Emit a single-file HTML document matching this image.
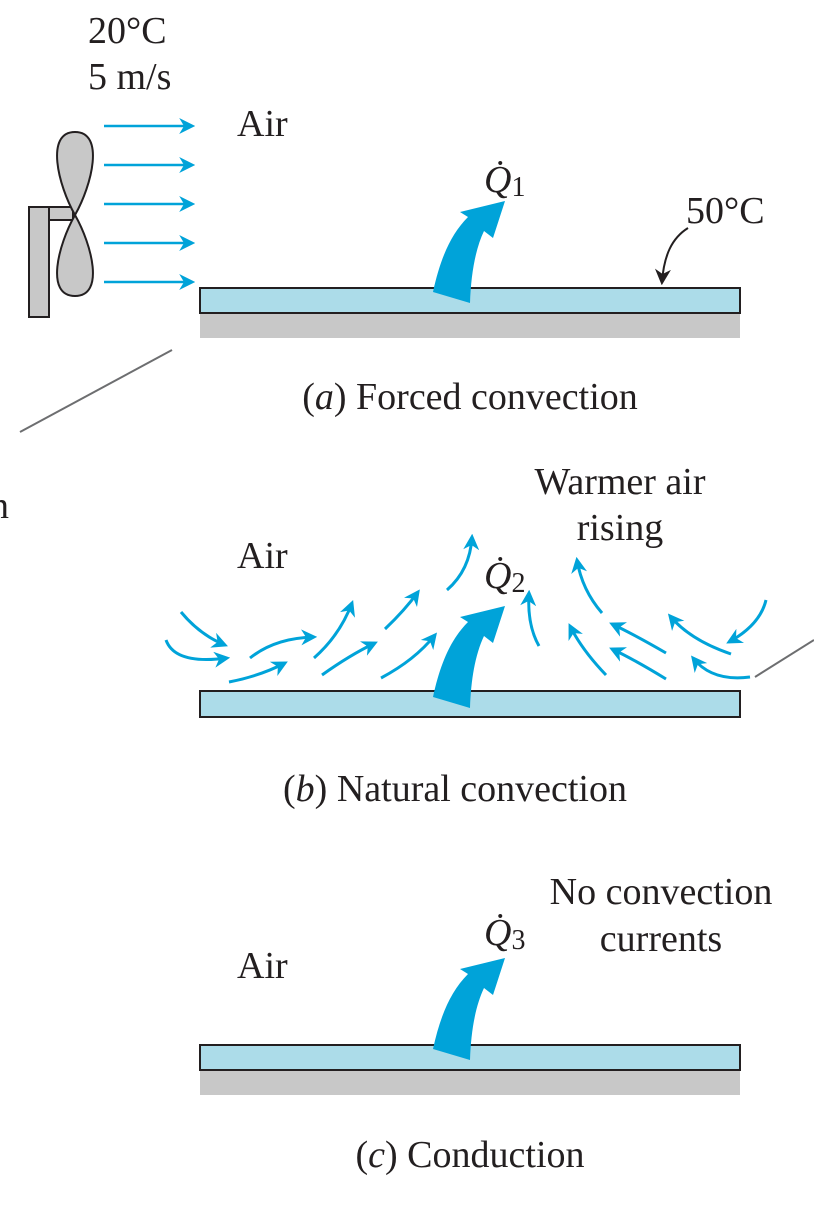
<!DOCTYPE html>
<html><head><meta charset="utf-8"><style>
html,body{margin:0;padding:0;background:#fff;}
svg{display:block;}
text{font-family:"Liberation Serif",serif;fill:#231f20;}
</style></head><body>
<svg width="814" height="1208" viewBox="0 0 814 1208">
<defs>
<marker id="bh2" viewBox="0 0 10 10" refX="8" refY="5" markerWidth="16" markerHeight="16" orient="auto" markerUnits="userSpaceOnUse"><path d="M0,0 L10,5 L0,10 L3,5 Z" fill="#00a3d9"/></marker>
<marker id="kh" viewBox="0 0 10 10" refX="8" refY="5" markerWidth="16" markerHeight="16" orient="auto" markerUnits="userSpaceOnUse"><path d="M0,0 L10,5 L0,10 L3,5 Z" fill="#231f20"/></marker>
<path id="bigarrow" d="M433,697 C440,665 450,640 468,622 L460,617 L505,606 L493,643 L484,636 C475,655 471,680 470,708 Z" fill="#00a3d9"/>
</defs>

<g>
<rect x="29" y="207" width="20" height="110" fill="#c8c8c8" stroke="#231f20" stroke-width="2"/>
<rect x="49" y="207" width="24" height="13" fill="#c8c8c8" stroke="#231f20" stroke-width="2"/>
<path d="M75,215 C58,185 45,132 75,132 C105,132 92,185 75,215 Z" fill="#c8c8c8" stroke="#231f20" stroke-width="2"/>
<path d="M75,215 C58,245 45,296 75,296 C105,296 92,245 75,215 Z" fill="#c8c8c8" stroke="#231f20" stroke-width="2"/>
</g>
<g stroke="#00a3d9" stroke-width="2.5" fill="none">
<line x1="104" y1="126" x2="192" y2="126" marker-end="url(#bh2)"/>
<line x1="104" y1="165" x2="192" y2="165" marker-end="url(#bh2)"/>
<line x1="104" y1="204" x2="192" y2="204" marker-end="url(#bh2)"/>
<line x1="104" y1="243" x2="192" y2="243" marker-end="url(#bh2)"/>
<line x1="104" y1="282" x2="192" y2="282" marker-end="url(#bh2)"/>
</g>
<text x="88" y="43" font-size="38">20°C</text>
<text x="88" y="89" font-size="38">5 m/s</text>
<text x="237" y="136" font-size="38">Air</text>
<rect x="200" y="313" width="540" height="25" fill="#c8c8c8"/>
<rect x="200" y="288" width="540" height="25" fill="#acdce9" stroke="#231f20" stroke-width="2"/>
<use href="#bigarrow" transform="translate(0,-405)"/>
<text x="484" y="192" font-size="38" font-style="italic">Q̇<tspan font-style="normal" font-size="28" dy="4">1</tspan></text>
<text x="686" y="223" font-size="38">50°C</text>
<path d="M688,228 C672,238 664,255 662,282" stroke="#231f20" stroke-width="2" fill="none" marker-end="url(#kh)"/>
<line x1="172" y1="350" x2="20" y2="432" stroke="#6d6e70" stroke-width="2"/>
<text x="470" y="409" font-size="38" text-anchor="middle">(<tspan font-style="italic">a</tspan>) Forced convection</text>
<text x="-10" y="518" font-size="38">n</text>

<text x="620" y="494" font-size="38" text-anchor="middle">Warmer air</text>
<text x="620" y="540" font-size="38" text-anchor="middle">rising</text>
<text x="237" y="568" font-size="38">Air</text>
<g stroke="#00a3d9" stroke-width="3" fill="none">
<path d="M181,612 Q200,635 225,645" marker-end="url(#bh2)"/>
<path d="M166,640 Q175,665 227,658" marker-end="url(#bh2)"/>
<path d="M250,658 Q275,638 314,637" marker-end="url(#bh2)"/>
<path d="M229,682 Q260,676 285,663" marker-end="url(#bh2)"/>
<path d="M314,658 Q340,635 352,603" marker-end="url(#bh2)"/>
<path d="M322,675 Q350,655 375,643" marker-end="url(#bh2)"/>
<path d="M385,629 Q405,610 418,592" marker-end="url(#bh2)"/>
<path d="M381,678 Q415,660 435,635" marker-end="url(#bh2)"/>
<path d="M447,590 Q470,570 472,537" marker-end="url(#bh2)"/>
<path d="M539,646 Q527,625 529,593" marker-end="url(#bh2)"/>
<path d="M602,613 Q582,590 577,560" marker-end="url(#bh2)"/>
<path d="M606,675 Q582,650 570,626" marker-end="url(#bh2)"/>
<path d="M666,653 Q635,635 612,624" marker-end="url(#bh2)"/>
<path d="M666,679 Q635,660 612,649" marker-end="url(#bh2)"/>
<path d="M731,654 Q690,640 670,616" marker-end="url(#bh2)"/>
<path d="M750,677 Q712,682 693,658" marker-end="url(#bh2)"/>
<path d="M766,600 Q760,625 729,642" marker-end="url(#bh2)"/>
</g>
<line x1="755" y1="677" x2="814" y2="640" stroke="#6d6e70" stroke-width="2"/>
<rect x="200" y="691" width="540" height="26" fill="#acdce9" stroke="#231f20" stroke-width="2"/>
<use href="#bigarrow"/>
<text x="484" y="588" font-size="38" font-style="italic">Q̇<tspan font-style="normal" font-size="28" dy="4">2</tspan></text>
<text x="455" y="801" font-size="38" text-anchor="middle">(<tspan font-style="italic">b</tspan>) Natural convection</text>

<text x="661" y="904" font-size="38" text-anchor="middle">No convection</text>
<text x="661" y="951" font-size="38" text-anchor="middle">currents</text>
<text x="484" y="945" font-size="38" font-style="italic">Q̇<tspan font-style="normal" font-size="28" dy="4">3</tspan></text>
<text x="237" y="978" font-size="38">Air</text>
<rect x="200" y="1070" width="540" height="25" fill="#c8c8c8"/>
<rect x="200" y="1045" width="540" height="25" fill="#acdce9" stroke="#231f20" stroke-width="2"/>
<use href="#bigarrow" transform="translate(0,352)"/>
<text x="470" y="1167" font-size="38" text-anchor="middle">(<tspan font-style="italic">c</tspan>) Conduction</text>
</svg>
</body></html>
